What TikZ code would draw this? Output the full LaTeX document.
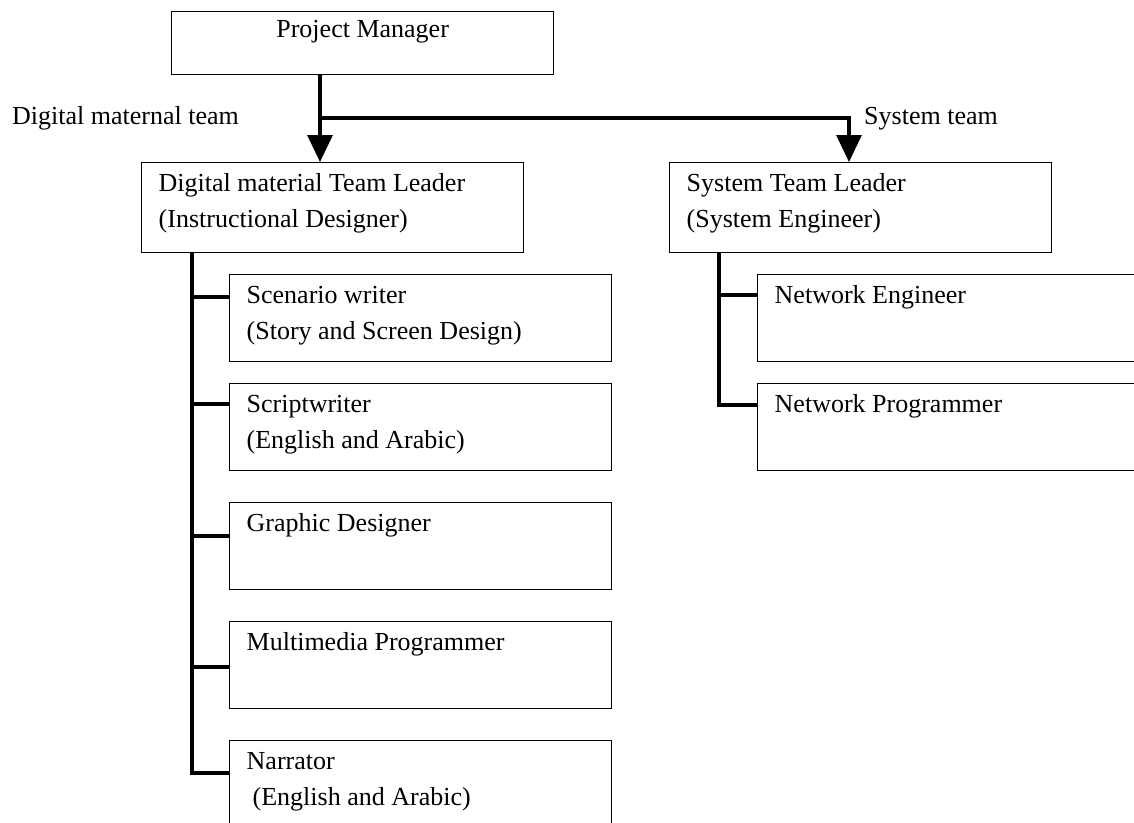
\documentclass[tikz,border=0pt]{standalone}
\usepackage{fontspec}
\setmainfont{Liberation Serif}
\usetikzlibrary{arrows.meta,calc}
\newcommand{\orgfont}{\fontsize{26}{36}\selectfont}
\begin{document}
\begin{tikzpicture}[x=1pt,y=-1pt,
  box/.style={draw, line width=1.3pt, rectangle, anchor=north west, inner sep=0pt},
  rolebox/.style={box, minimum width=382pt, minimum height=87pt},
  leadbox/.style={box, minimum width=382pt, minimum height=90pt},
  boxtext/.style={anchor=north west, inner sep=0pt, align=left, font=\orgfont},
  plain/.style={inner sep=0pt, font=\orgfont},
  conn/.style={line width=3.3pt, line join=miter},
  drop/.style={conn, -{Triangle[width=25pt,length=27pt]}},
]
\clip (0,0) rectangle (1134,822);
\fill[white] (0,0) rectangle (1134,822);

% top level
\node[box, minimum width=382pt, minimum height=63pt] (pm) at (171,11) {};
\node[plain, anchor=base] (pmt) at ($(pm.north)+(0,26)$) {Project Manager};

% team leaders
\node[leadbox] (dm) at (141,162) {};
\node[boxtext] (dmt) at ($(dm.north west)+(17.5,3.8)$) {\strut Digital material Team Leader\\(Instructional Designer)};
\node[leadbox] (sys) at (669,162) {};
\node[boxtext] (syst) at ($(sys.north west)+(17.5,3.8)$) {\strut System Team Leader\\(System Engineer)};

% digital material team members
\node[rolebox] (sw) at (229,274) {};
\node[boxtext] (swt) at ($(sw.north west)+(17.5,3.8)$) {\strut Scenario writer\\(Story and Screen Design)};
\node[rolebox] (scr) at (229,383) {};
\node[boxtext] (scrt) at ($(scr.north west)+(17.5,3.8)$) {\strut Scriptwriter\\(English and Arabic)};
\node[rolebox] (gd) at (229,502) {};
\node[boxtext] (gdt) at ($(gd.north west)+(17.5,3.8)$) {\strut Graphic Designer};
\node[rolebox] (mm) at (229,621) {};
\node[boxtext] (mmt) at ($(mm.north west)+(17.5,3.8)$) {\strut Multimedia Programmer};
\node[rolebox] (nar) at (229,740) {};
\node[boxtext] (nart) at ($(nar.north west)+(17.5,3.8)$) {\strut Narrator\\\hspace*{6pt}(English and Arabic)};

% system team members
\node[box, minimum width=400pt, minimum height=87pt] (ne) at (757,274) {};
\node[boxtext] (net) at ($(ne.north west)+(17.5,3.8)$) {\strut Network Engineer};
\node[box, minimum width=400pt, minimum height=87pt] (np) at (757,383) {};
\node[boxtext] (npt) at ($(np.north west)+(17.5,3.8)$) {\strut Network Programmer};

% team labels
\node[plain, anchor=base west] (dmlab) at (12,124) {Digital maternal team};
\node[plain, anchor=base west] (syslab) at (864,124) {System team};

% manager to team leaders
\coordinate (j1) at (320,118);
\coordinate (j2) at (849,118);
\draw[conn] (j1 |- pm.south) -- (j1);
\draw[drop] (j1) -- (j1 |- dm.north);
\draw[drop] (j1) -- (j2) -- (j2 |- sys.north);

% digital material team tree
\coordinate (t1) at (192,297);
\coordinate (t2) at (192,404);
\coordinate (t3) at (192,536);
\coordinate (t4) at (192,667);
\coordinate (t5) at (192,773);
\draw[conn] (t5 |- dm.south) -- (t5) -- (t5 -| nar.west);
\draw[conn] (t1) -- (t1 -| sw.west);
\draw[conn] (t2) -- (t2 -| scr.west);
\draw[conn] (t3) -- (t3 -| gd.west);
\draw[conn] (t4) -- (t4 -| mm.west);

% system team tree
\coordinate (s1) at (719,295);
\coordinate (s2) at (719,405);
\draw[conn] (s2 |- sys.south) -- (s2) -- (s2 -| np.west);
\draw[conn] (s1) -- (s1 -| ne.west);
\end{tikzpicture}
\end{document}
